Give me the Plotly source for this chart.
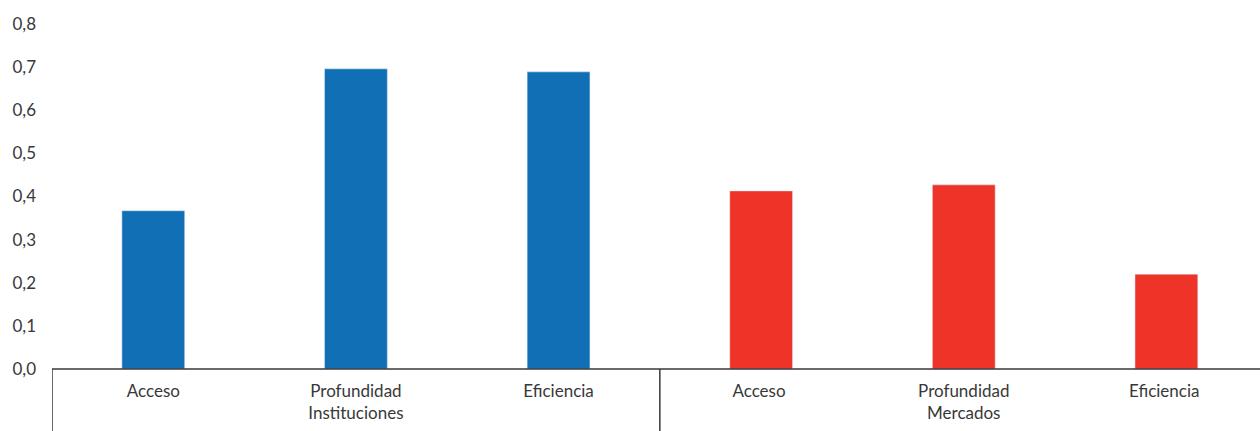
import plotly.graph_objects as go

# Indicator names and values per group
categories = ["Acceso", "Profundidad<br>Instituciones", "Eficiencia",
              "Acceso ", "Profundidad<br>Mercados", "Eficiencia "]
instituciones = [0.367, 0.696, 0.689]
mercados = [0.413, 0.427, 0.220]
y_ticks = [0.0, 0.1, 0.2, 0.3, 0.4, 0.5, 0.6, 0.7, 0.8]
y_tick_labels = ["0,0", "0,1", "0,2", "0,3", "0,4", "0,5", "0,6", "0,7", "0,8"]

BLUE = "#1170B5"
RED = "#EE3329"
TEXT = "#383838"
FONT = "Lato"

fig = go.Figure()
fig.add_trace(go.Bar(x=categories[:3], y=instituciones, marker_color=BLUE,
                     width=0.31, showlegend=False))
fig.add_trace(go.Bar(x=categories[3:], y=mercados, marker_color=RED,
                     width=0.31, showlegend=False))

fig.update_layout(
    width=1260, height=431,
    margin=dict(l=52, r=0, t=24, b=62),
    paper_bgcolor="white", plot_bgcolor="white",
    font=dict(family=FONT, size=17, color=TEXT),
    barmode="overlay",
    xaxis=dict(
        categoryorder="array", categoryarray=categories,
        range=[-0.5, 5.462],
        showgrid=False, zeroline=False,
        showline=False, ticks="",
        tickfont=dict(size=17, color=TEXT),
        ticklabelstandoff=10,
    ),
    yaxis=dict(
        range=[0, 0.8],
        tickvals=y_ticks, ticktext=y_tick_labels,
        showgrid=False, zeroline=False, showline=False,
        ticks="", ticklabelstandoff=15,
        tickfont=dict(size=17, color=TEXT),
    ),
)

# Baseline and group dividers below the axis
fig.add_shape(type="line", xref="paper", yref="paper", x0=0, x1=1, y0=0, y1=0,
              line=dict(color=TEXT, width=1.5))
for xpos in [-0.5, 2.5]:
    fig.add_shape(type="line", xref="x", yref="paper", x0=xpos, x1=xpos,
                  y0=0, y1=-0.2, line=dict(color=TEXT, width=1.5))

fig.write_html("out.html")
